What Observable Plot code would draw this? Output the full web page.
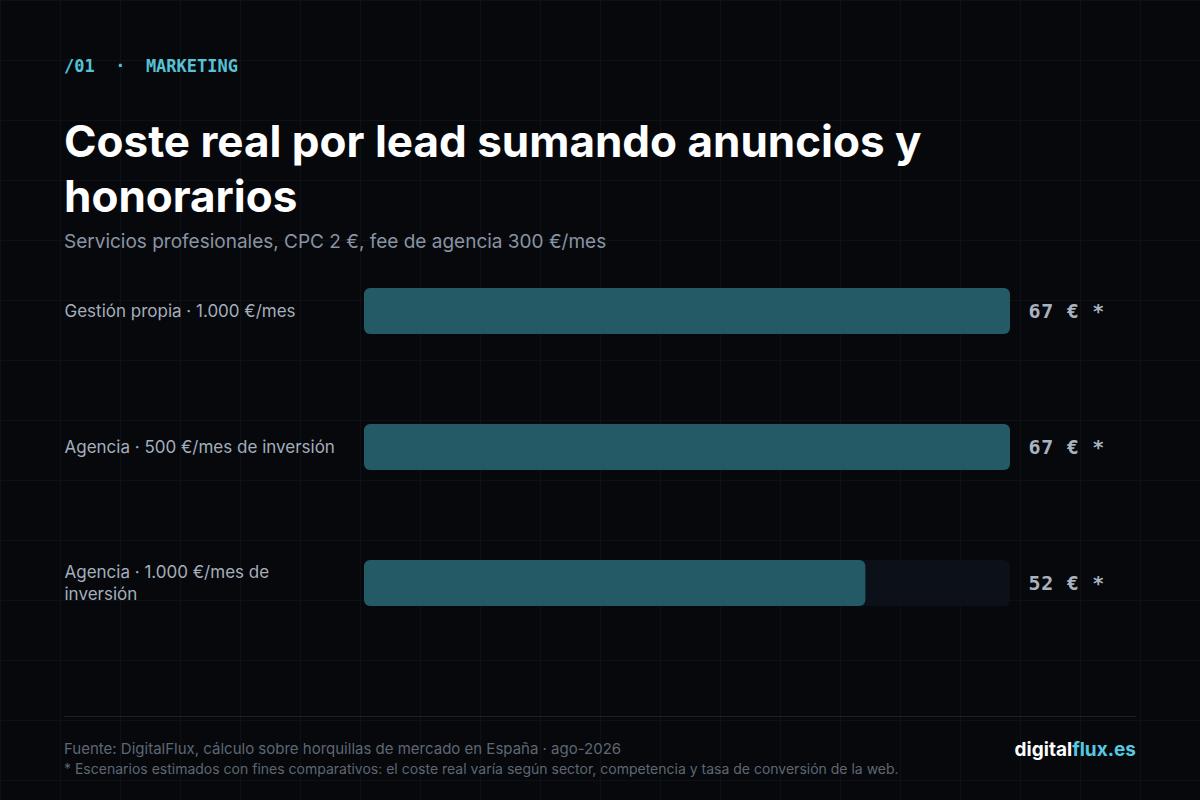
<!DOCTYPE html>
<html>
<head>
<meta charset="utf-8">
<script src="https://cdn.jsdelivr.net/npm/d3@7"></script>
<script src="https://cdn.jsdelivr.net/npm/@observablehq/plot@0.6"></script>
<style>
  html, body { margin: 0; padding: 0; background: #06080c; }
  #page {
    position: relative; width: 1200px; height: 800px; overflow: hidden;
    background-color: #06080c;
    background-image:
      linear-gradient(to right, #0d1117 1px, transparent 1px),
      linear-gradient(to bottom, #0d1117 1px, transparent 1px);
    background-size: 60px 60px;
    font-family: Inter, "Noto Sans", sans-serif;
  }
  .abs { position: absolute; margin: 0; white-space: nowrap; }
  #kicker { left: 64px; top: 57.6px; font-family: "DejaVu Sans Mono", monospace; font-size: 17px; line-height: 1; color: #56c2d6; font-weight: 600; white-space: pre; }
  #title { left: 64px; top: 113.5px; font-size: 44px; line-height: 55px; font-weight: 700; color: #ffffff; letter-spacing: 0; white-space: normal; width: 1000px; }
  #subtitle { left: 64px; top: 231.6px; font-size: 19px; line-height: 1; color: #8a94a2; }
  #chart { left: 0; top: 270px; }
  #rule { left: 64px; top: 716px; width: 1072px; height: 1px; background: #1b212b; }
  #source { left: 64px; top: 741px; font-size: 15px; line-height: 1; color: #5e6773; }
  #note { left: 64px; top: 762px; font-size: 14px; line-height: 1; color: #5e6773; }
  #brand { right: 64px; top: 740px; font-size: 19px; line-height: 1; font-weight: 700; color: #ffffff; }
  #brand span { color: #56c8e0; }
</style>
</head>
<body>
<div id="page">
  <div id="kicker" class="abs">/01  ·  MARKETING</div>
  <h1 id="title" class="abs">Coste real por lead sumando anuncios y honorarios</h1>
  <div id="subtitle" class="abs">Servicios profesionales, CPC 2 €, fee de agencia 300 €/mes</div>
  <div id="chart" class="abs"></div>
  <div id="rule" class="abs"></div>
  <div id="source" class="abs">Fuente: DigitalFlux, cálculo sobre horquillas de mercado en España · ago-2026</div>
  <div id="note" class="abs">* Escenarios estimados con fines comparativos: el coste real varía según sector, competencia y tasa de conversión de la web.</div>
  <div id="brand" class="abs">digital<span>flux.es</span></div>
</div>
<script>
const categories = [
  "Gestión propia · 1.000 €/mes",
  "Agencia · 500 €/mes de inversión",
  "Agencia · 1.000 €/mes de inversión"
];
const tickLabels = [
  "Gestión propia · 1.000 €/mes",
  "Agencia · 500 €/mes de inversión",
  "Agencia · 1.000 €/mes de\ninversión"
];
const values = [67, 67, 52];
const valueLabels = ["67 € *", "67 € *", "52 € *"];
const xMax = 67;

const data = categories.map((c, i) => ({
  cat: c, label: tickLabels[i], value: values[i], text: valueLabels[i]
}));

const chart = Plot.plot({
  width: 1200,
  height: 360,
  marginLeft: 364,
  marginRight: 190,
  marginTop: 17,
  marginBottom: 23,
  style: { background: "transparent", overflow: "visible" },
  x: { domain: [0, xMax], axis: null },
  y: { domain: categories, axis: null, paddingInner: 0.664, paddingOuter: 0, align: 0.5 },
  marks: [
    Plot.barX(data, { y: "cat", x1: 0, x2: xMax, fill: "#0c1119", rx: 6 }),
    Plot.barX(data, { y: "cat", x1: 0, x2: "value", fill: "#245a66", rx: 6 }),
    Plot.text(data, {
      y: "cat", x: 0, text: "label", textAnchor: "start", dx: -300, dy: -2,
      fill: "#a5aebb", fontSize: 17, lineHeight: 1.3, fontFamily: "Inter"
    }),
    Plot.text(data, {
      y: "cat", x: xMax, text: "text", textAnchor: "start", dx: 18, dy: 0.5,
      fill: "#a9b3bf", fontSize: 20, fontWeight: 700, fontFamily: "DejaVu Sans Mono"
    })
  ]
});
chart.querySelectorAll('g[font-family="DejaVu Sans Mono"]').forEach(g => g.setAttribute("letter-spacing", "0.7"));
document.getElementById("chart").appendChild(chart);
</script>
</body>
</html>
